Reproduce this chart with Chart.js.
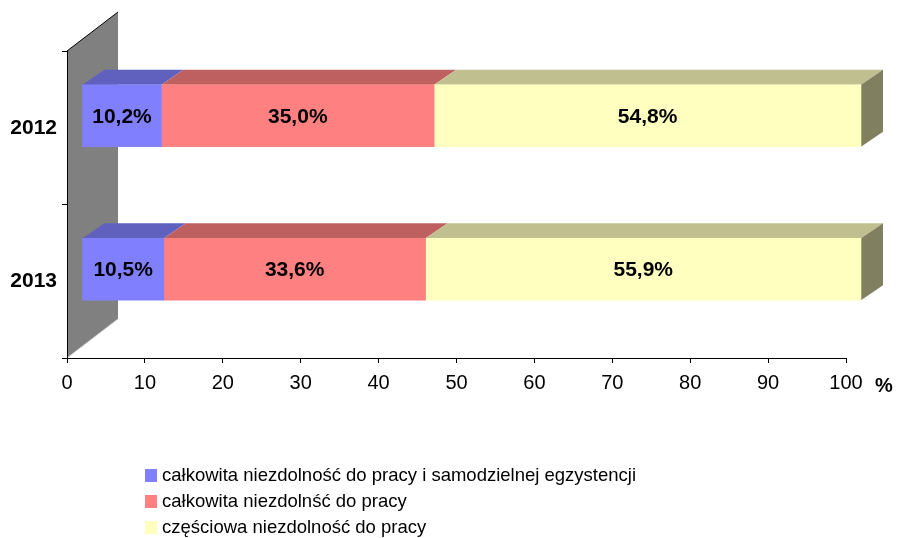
<!DOCTYPE html>
<html>
<head>
<meta charset="utf-8">
<script src="https://cdn.jsdelivr.net/npm/chart.js@4.4.0/dist/chart.umd.min.js"></script>
<style>
  body { margin: 0; background: #fff; }
  #wrap { position: relative; width: 898px; height: 538px; }
  .legend { position: absolute; left: 145px; top: 462px; font: 18.5px "Liberation Sans", Arial, sans-serif; color: #000; }
  .legend div { height: 26px; line-height: 26px; white-space: nowrap; }
  .legend span { display: inline-block; width: 12px; height: 13px; margin-right: 5px; vertical-align: -1px; }
</style>
</head>
<body>
<div id="wrap">
  <canvas id="chart" width="898" height="538"></canvas>
  <div class="legend" id="legend"></div>
</div>
<script>
// data
const years = ["2012", "2013"];
const seriesNames = [
  "całkowita niezdolność do pracy i samodzielnej egzystencji",
  "całkowita niezdolnść do pracy",
  "częściowa niezdolność do pracy"
];
const fullInability = [10.2, 10.5];
const workInability = [35.0, 33.6];
const partialInability = [54.8, 55.9];

const frontColors = ["#8080FF", "#FF8080", "#FFFFC0"];
const topColors = ["#6060BF", "#BF6060", "#BFBF90"];
const sideColor = "#808060";

const FONT = '"Liberation Sans", Arial, sans-serif';
const SHIFT_X = 15, SHIFT_Y = -12;   // bars sit a bit behind the axis plane
const DEPTH_X = 22, DEPTH_Y = -15;   // bar depth
const WALL_X = 51, WALL_Y = -39;     // side wall depth

const fmt = v => v.toFixed(1).replace(".", ",") + "%";

const fake3d = {
  id: "fake3d",
  beforeDraw(chart) {
    // grey side wall behind the category axis
    const { ctx, chartArea: a } = chart;
    ctx.save();
    ctx.beginPath();
    ctx.moveTo(a.left, a.top);
    ctx.lineTo(a.left + WALL_X, a.top + WALL_Y);
    ctx.lineTo(a.left + WALL_X, a.bottom + WALL_Y);
    ctx.lineTo(a.left, a.bottom);
    ctx.closePath();
    ctx.fillStyle = "#808080";
    ctx.fill();
    ctx.lineWidth = 1;
    ctx.strokeStyle = "#000";
    ctx.beginPath();
    ctx.moveTo(a.left, a.top);
    ctx.lineTo(a.left + WALL_X, a.top + WALL_Y);
    ctx.stroke();
    ctx.strokeStyle = "#d8d8d8";
    ctx.beginPath();
    ctx.moveTo(a.left, a.bottom);
    ctx.lineTo(a.left + WALL_X, a.bottom + WALL_Y);
    ctx.stroke();
    ctx.restore();
  },
  beforeDatasetsDraw(chart) {
    const ctx = chart.ctx;
    ctx.save();
    ctx.translate(SHIFT_X, SHIFT_Y);
    const n = chart.data.datasets.length;
    chart.data.datasets.forEach((ds, di) => {
      chart.getDatasetMeta(di).data.forEach(bar => {
        const l = Math.min(bar.base, bar.x), r = Math.max(bar.base, bar.x);
        const t = bar.y - bar.height / 2, b = bar.y + bar.height / 2;
        ctx.fillStyle = topColors[di];
        ctx.beginPath();
        ctx.moveTo(l, t);
        ctx.lineTo(l + DEPTH_X, t + DEPTH_Y);
        ctx.lineTo(r + DEPTH_X, t + DEPTH_Y);
        ctx.lineTo(r, t);
        ctx.closePath();
        ctx.fill();
        if (di === n - 1) {
          ctx.fillStyle = sideColor;
          ctx.beginPath();
          ctx.moveTo(r, t);
          ctx.lineTo(r + DEPTH_X, t + DEPTH_Y);
          ctx.lineTo(r + DEPTH_X, b + DEPTH_Y);
          ctx.lineTo(r, b);
          ctx.closePath();
          ctx.fill();
        }
      });
    });
  },
  afterDatasetsDraw(chart) {
    const ctx = chart.ctx;
    ctx.font = "bold 21px " + FONT;
    ctx.fillStyle = "#000";
    ctx.textAlign = "center";
    ctx.textBaseline = "middle";
    chart.data.datasets.forEach((ds, di) => {
      chart.getDatasetMeta(di).data.forEach((bar, i) => {
        ctx.fillText(fmt(ds.data[i]), (bar.base + bar.x) / 2, bar.y + 1);
      });
    });
    ctx.restore();
  },
  afterDraw(chart) {
    const { ctx, chartArea: a } = chart;
    ctx.save();
    ctx.font = "bold 20px " + FONT;
    ctx.fillStyle = "#000";
    ctx.textAlign = "left";
    ctx.textBaseline = "middle";
    ctx.fillText("%", a.right + 29, a.bottom + 28);
    ctx.restore();
  }
};

const seriesData = [fullInability, workInability, partialInability];

new Chart(document.getElementById("chart"), {
  type: "bar",
  data: {
    labels: years,
    datasets: seriesData.map((d, i) => ({
      label: seriesNames[i],
      data: d,
      backgroundColor: frontColors[i],
      borderWidth: 0,
      clip: false
    }))
  },
  options: {
    indexAxis: "y",
    responsive: false,
    animation: false,
    barThickness: 62,
    layout: { padding: { left: 0, top: 51, right: 52, bottom: 140 } },
    plugins: { legend: { display: false }, tooltip: { enabled: false } },
    scales: {
      x: {
        stacked: true,
        min: 0,
        max: 100,
        ticks: { stepSize: 10, color: "#000", padding: 8, font: { family: FONT, size: 20 } },
        grid: { drawOnChartArea: false, drawTicks: true, tickLength: 5, color: "#000" },
        border: { display: true, color: "#000" },
        afterFit: s => { s.height = 40; }
      },
      y: {
        stacked: true,
        ticks: { color: "#000", padding: 5, font: { family: FONT, size: 21, weight: "bold" } },
        grid: { drawOnChartArea: false, drawTicks: true, tickLength: 5, color: "#000", offset: true },
        border: { display: true, color: "#000" },
        afterFit: s => { s.width = 67; }
      }
    }
  },
  plugins: [fake3d]
});

// legend, one entry per line
const legend = document.getElementById("legend");
seriesNames.forEach((name, i) => {
  const row = document.createElement("div");
  row.innerHTML = '<span style="background:' + frontColors[i] + '"></span>' + name;
  legend.appendChild(row);
});
</script>
</body>
</html>
